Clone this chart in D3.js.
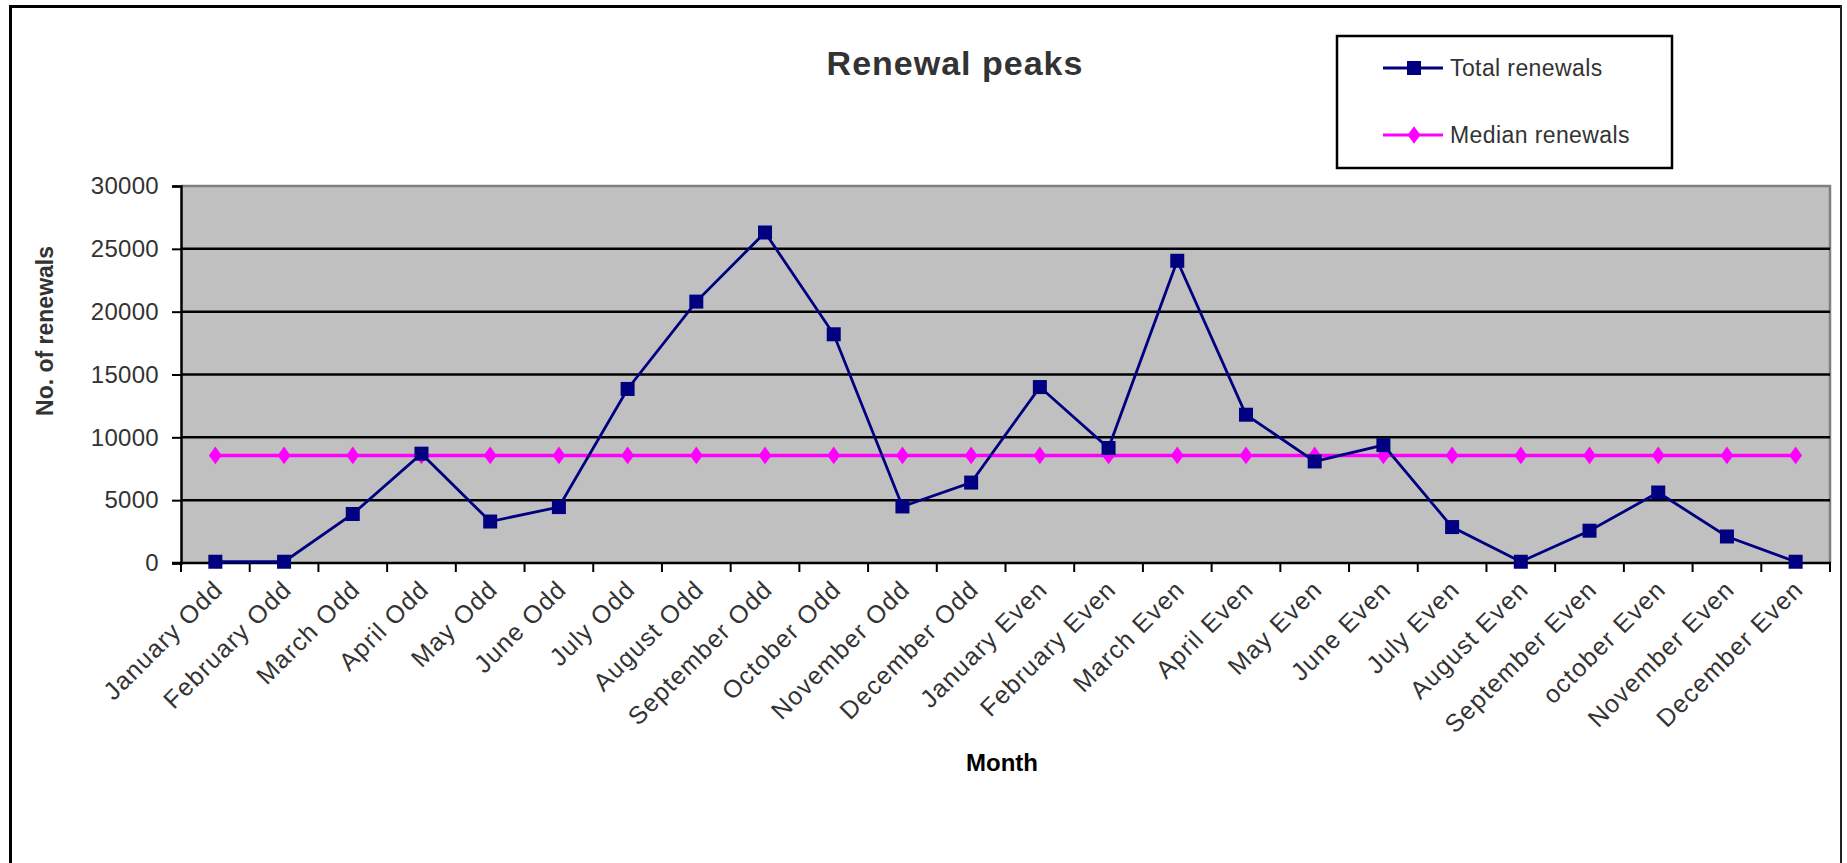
<!DOCTYPE html>
<html>
<head>
<meta charset="utf-8">
<script src="https://cdn.jsdelivr.net/npm/d3@7"></script>
<style>
  html, body { margin: 0; padding: 0; background: #fff; }
  svg { display: block; font-family: "Liberation Sans", Arial, sans-serif; }
</style>
</head>
<body>
<svg id="chart" width="1847" height="863"></svg>
<script>
// ---- data ----
const months = ["January Odd","February Odd","March Odd","April Odd","May Odd","June Odd","July Odd","August Odd","September Odd","October Odd","November Odd","December Odd","January Even","February Even","March Even","April Even","May Even","June Even","July Even","August Even","September Even","october Even","November Even","December Even"];
const totalRenewals = [100,100,3900,8700,3300,4450,13850,20800,26300,18200,4500,6400,14000,9150,24050,11800,8080,9380,2860,100,2570,5610,2110,100];
const medianRenewals = [8560,8560,8560,8560,8560,8560,8560,8560,8560,8560,8560,8560,8560,8560,8560,8560,8560,8560,8560,8560,8560,8560,8560,8560];
const yTicks = [0,5000,10000,15000,20000,25000,30000];
const seriesNames = ["Total renewals","Median renewals"];

const svg = d3.select("#chart");
const plot = {left: 181, right: 1830, top: 186, bottom: 563};
const x = d3.scaleBand().domain(months).range([plot.left, plot.right]).padding(0);
const y = d3.scaleLinear().domain([0, 30000]).range([plot.bottom, plot.top]);
const cx = d => x(d) + x.bandwidth() / 2;
const textColor = "#333";

// outer frame (top, left, right; bottom cut off)
svg.append("line").attr("x1", 9).attr("x2", 1842).attr("y1", 6.5).attr("y2", 6.5).attr("stroke", "#000").attr("stroke-width", 3);
svg.append("line").attr("x1", 10.5).attr("x2", 10.5).attr("y1", 5).attr("y2", 863).attr("stroke", "#000").attr("stroke-width", 3);
svg.append("line").attr("x1", 1841).attr("x2", 1841).attr("y1", 5).attr("y2", 863).attr("stroke", "#222").attr("stroke-width", 2);

// title
svg.append("text").attr("x", 955).attr("y", 75).attr("text-anchor", "middle")
  .attr("font-size", 34).attr("font-weight", "bold").attr("letter-spacing", 1)
  .attr("fill", textColor).text("Renewal peaks");

// plot background
svg.append("rect").attr("x", plot.left).attr("y", plot.top)
  .attr("width", plot.right - plot.left).attr("height", plot.bottom - plot.top)
  .attr("fill", "#c0c0c0");
// gray top & right border
svg.append("path").attr("d", `M${plot.left},${plot.top}H${plot.right}V${plot.bottom}`)
  .attr("fill", "none").attr("stroke", "#808080").attr("stroke-width", 2.5);

// gridlines
svg.append("g").selectAll("line").data(yTicks.filter(t => t > 0 && t < 30000)).join("line")
  .attr("x1", plot.left).attr("x2", plot.right)
  .attr("y1", d => y(d)).attr("y2", d => y(d))
  .attr("stroke", "#000").attr("stroke-width", 2.5);

// y axis
const yAxis = svg.append("g").attr("transform", `translate(${plot.left},0)`)
  .call(d3.axisLeft(y).tickValues(yTicks).tickSize(9).tickPadding(13).tickFormat(d3.format("d")));
yAxis.select(".domain").attr("stroke", "#000").attr("stroke-width", 2.5);
yAxis.selectAll(".tick line").attr("stroke", "#000").attr("stroke-width", 2);
yAxis.selectAll(".tick text").attr("font-size", 24).attr("letter-spacing", 0.3).attr("fill", textColor)
  .attr("font-family", "'Liberation Sans', Arial, sans-serif");

// x axis line
svg.append("line").attr("x1", plot.left - 9).attr("x2", plot.right + 1)
  .attr("y1", plot.bottom).attr("y2", plot.bottom).attr("stroke", "#000").attr("stroke-width", 2.5);
// x ticks at category boundaries
const bounds = months.map(m => x(m)).concat([plot.right]);
svg.append("g").selectAll("line").data(bounds).join("line")
  .attr("x1", d => d).attr("x2", d => d)
  .attr("y1", plot.bottom).attr("y2", plot.bottom + 9)
  .attr("stroke", "#000").attr("stroke-width", 2);
// x labels
svg.append("g").selectAll("text").data(months).join("text")
  .attr("transform", d => `translate(${cx(d) + 9},${plot.bottom + 28}) rotate(-45)`)
  .attr("text-anchor", "end").attr("font-size", 25).attr("letter-spacing", 1.2)
  .attr("fill", textColor).text(d => d);

// axis titles
svg.append("text").attr("transform", "translate(53,331) rotate(-90)")
  .attr("text-anchor", "middle").attr("font-size", 23).attr("font-weight", "bold")
  .attr("fill", textColor).text("No. of renewals");
svg.append("text").attr("x", 1002).attr("y", 771).attr("text-anchor", "middle")
  .attr("font-size", 24).attr("font-weight", "bold").attr("fill", "#000").text("Month");

// series
const navy = "#000080", magenta = "#ff00ff";
const line = d3.line().x(d => cx(d.m)).y(d => y(d.v));
const totalData = months.map((m, i) => ({m, v: totalRenewals[i]}));
const medianData = months.map((m, i) => ({m, v: medianRenewals[i]}));

svg.append("path").datum(medianData).attr("d", line)
  .attr("fill", "none").attr("stroke", magenta).attr("stroke-width", 3.5);
const diamond = d3.symbol().type(d3.symbolDiamond).size(100);
svg.append("g").selectAll("path").data(medianData).join("path")
  .attr("transform", d => `translate(${cx(d.m)},${y(d.v)}) scale(1.2,0.95)`)
  .attr("d", diamond).attr("fill", magenta);

svg.append("path").datum(totalData).attr("d", line)
  .attr("fill", "none").attr("stroke", navy).attr("stroke-width", 2.8);
svg.append("g").selectAll("rect").data(totalData).join("rect")
  .attr("x", d => cx(d.m) - 7).attr("y", d => y(d.v) - 7)
  .attr("width", 14).attr("height", 14).attr("fill", navy);

// legend
const lg = svg.append("g");
lg.append("rect").attr("x", 1337).attr("y", 36).attr("width", 335).attr("height", 132)
  .attr("fill", "#fff").attr("stroke", "#000").attr("stroke-width", 2.5);
const rows = [68, 135];
seriesNames.forEach((name, i) => {
  const yy = rows[i];
  const col = i === 0 ? navy : magenta;
  lg.append("line").attr("x1", 1383).attr("x2", 1443).attr("y1", yy).attr("y2", yy)
    .attr("stroke", col).attr("stroke-width", 3);
  if (i === 0) {
    lg.append("rect").attr("x", 1407).attr("y", yy - 7).attr("width", 14).attr("height", 14).attr("fill", navy);
  } else {
    lg.append("path").attr("transform", `translate(1414,${yy}) scale(1.2,0.95)`).attr("d", diamond).attr("fill", magenta);
  }
  lg.append("text").attr("x", 1450).attr("y", yy + 8).attr("font-size", 23).attr("letter-spacing", 0.4)
    .attr("fill", textColor).text(name);
});
</script>
</body>
</html>
